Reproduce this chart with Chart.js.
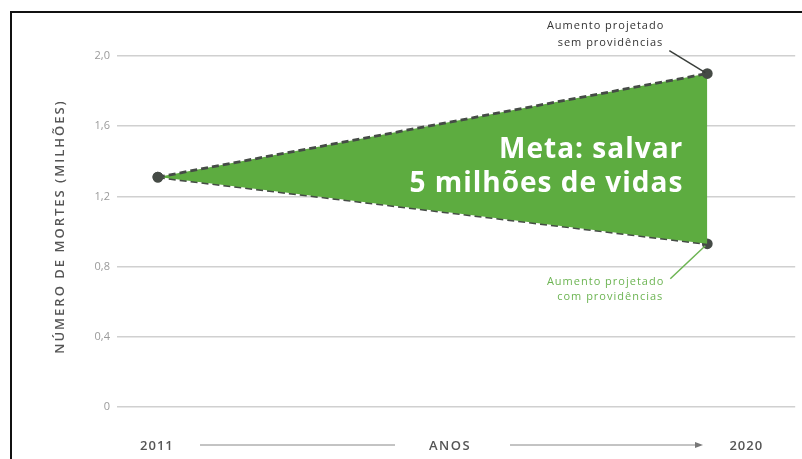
<!DOCTYPE html>
<html>
<head>
<meta charset="utf-8">
<script src="https://cdn.jsdelivr.net/npm/chart.js@4"></script>
<style>
  html, body { margin: 0; padding: 0; background: #fff; }
  #wrap { width: 802px; height: 459px; }
</style>
</head>
<body>
<div id="wrap"><canvas id="chart" width="802" height="459"></canvas></div>
<script>
// anos e projeções (milhões de mortes)
const years = [2011, 2020];
const semProvidencias = [1.31, 1.9];
const comProvidencias = [1.31, 0.93];
const yTicks = [0, 0.4, 0.8, 1.2, 1.6, 2.0];
const yTitle = 'NÚMERO DE MORTES (MILHÕES)';

const GREEN = '#5dac40';
const DARK = '#454b46';

function toPoints(values) {
    return years.map((y, i) => ({ x: y, y: values[i] }));
}

// moldura, título do eixo, textos de anotação e a linha de anos em baixo
const decorations = {
    id: 'decorations',
    beforeDraw(chart) {
        const ctx = chart.ctx;
        ctx.save();
        ctx.fillStyle = '#fff';
        ctx.fillRect(0, 0, chart.width, chart.height);
        ctx.strokeStyle = '#111';
        ctx.lineWidth = 2;
        ctx.beginPath();
        ctx.moveTo(11, chart.height);
        ctx.lineTo(11, 12);
        ctx.lineTo(chart.width, 12);
        ctx.stroke();
        ctx.restore();
    },
    afterDatasetsDraw(chart) {
        const ctx = chart.ctx;
        const area = chart.chartArea;
        const x = chart.scales.x;
        const y = chart.scales.y;
        const xEnd = x.getPixelForValue(years[1]);
        const yTop = y.getPixelForValue(semProvidencias[1]);
        const yBot = y.getPixelForValue(comProvidencias[1]);
        ctx.save();

        // título do eixo y, girado
        ctx.save();
        ctx.translate(60, (area.top + area.bottom) / 2 - 5);
        ctx.rotate(-Math.PI / 2);
        ctx.fillStyle = '#555';
        ctx.font = '600 13px "Open Sans"';
        ctx.letterSpacing = '2px';
        ctx.textAlign = 'center';
        ctx.textBaseline = 'middle';
        ctx.fillText(yTitle, 0, 0);
        ctx.restore();

        // texto principal dentro da área verde
        ctx.fillStyle = '#fff';
        ctx.font = 'bold 28px "Open Sans"';
        ctx.letterSpacing = '1px';
        ctx.textAlign = 'right';
        ctx.textBaseline = 'alphabetic';
        ctx.fillText('Meta: salvar', xEnd - 24, y.getPixelForValue(1.417));
        ctx.fillText('5 milhões de vidas', xEnd - 24, y.getPixelForValue(1.225));

        // chamada de cima
        ctx.font = '11px "Open Sans"';
        ctx.letterSpacing = '1px';
        ctx.fillStyle = '#333';
        ctx.textBaseline = 'middle';
        ctx.fillText('Aumento projetado', xEnd - 43, yTop - 48);
        ctx.fillText('sem providências', xEnd - 44, yTop - 31);
        ctx.strokeStyle = '#3a3f3b';
        ctx.lineWidth = 1.5;
        ctx.beginPath();
        ctx.moveTo(xEnd - 38, yTop - 23);
        ctx.lineTo(xEnd - 2, yTop - 1);
        ctx.stroke();

        // chamada de baixo
        ctx.fillStyle = '#6cb452';
        ctx.fillText('Aumento projetado', xEnd - 43, yBot + 38);
        ctx.fillText('com providências', xEnd - 44, yBot + 53);
        ctx.strokeStyle = '#6cb452';
        ctx.beginPath();
        ctx.moveTo(xEnd - 2, yBot + 2);
        ctx.lineTo(xEnd - 37, yBot + 35);
        ctx.stroke();

        // eixo dos anos
        const rowY = area.bottom + 39;
        ctx.fillStyle = '#555';
        ctx.font = '600 13px "Open Sans"';
        ctx.textAlign = 'center';
        ctx.letterSpacing = '1px';
        ctx.fillText(String(years[0]), x.getPixelForValue(years[0]) - 1, rowY);
        ctx.fillText(String(years[1]), xEnd + 39, rowY);
        ctx.letterSpacing = '1.5px';
        ctx.fillText('ANOS', (area.left + area.right) / 2 - 6, rowY);
        ctx.strokeStyle = '#888';
        ctx.lineWidth = 1;
        ctx.beginPath();
        ctx.moveTo(200, rowY - 1);
        ctx.lineTo(395, rowY - 1);
        ctx.moveTo(510, rowY - 1);
        ctx.lineTo(700, rowY - 1);
        ctx.stroke();
        ctx.fillStyle = '#777';
        ctx.beginPath();
        ctx.moveTo(703, rowY - 1);
        ctx.lineTo(695, rowY - 4);
        ctx.lineTo(695, rowY + 2);
        ctx.closePath();
        ctx.fill();
        ctx.restore();
    }
};

new Chart(document.getElementById('chart'), {
    type: 'line',
    data: {
        datasets: [{
            label: 'Aumento projetado sem providências',
            data: toPoints(semProvidencias),
            borderColor: DARK,
            borderWidth: 2.8,
            borderDash: [7, 4],
            backgroundColor: GREEN,
            pointBackgroundColor: DARK,
            pointBorderColor: DARK,
            pointRadius: 4,
            fill: '+1'
        }, {
            label: 'Aumento projetado com providências',
            data: toPoints(comProvidencias),
            borderColor: DARK,
            borderWidth: 2.8,
            borderDash: [7, 4],
            pointBackgroundColor: DARK,
            pointBorderColor: DARK,
            pointRadius: 4,
            fill: false
        }]
    },
    options: {
        responsive: false,
        animation: false,
        layout: { padding: { top: 56, left: 49, right: 4, bottom: 52 } },
        plugins: {
            legend: { display: false },
            tooltip: { enabled: false }
        },
        scales: {
            x: {
                type: 'linear',
                display: false,
                min: 2010.33,
                max: 2021.44
            },
            y: {
                min: 0,
                max: 2.0,
                afterFit(scale) { scale.width = 68; },
                afterBuildTicks(scale) { scale.ticks = yTicks.map(v => ({ value: v })); },
                border: { display: false },
                grid: { color: '#d0d0d0', lineWidth: 1.5, drawTicks: false },
                ticks: {
                    padding: 7,
                    color: '#9a9a9a',
                    font: { family: 'Open Sans', size: 11 },
                    callback: v => v === 0 ? '0' : v.toFixed(1).replace('.', ',')
                }
            }
        }
    },
    plugins: [decorations]
});
</script>
</body>
</html>
